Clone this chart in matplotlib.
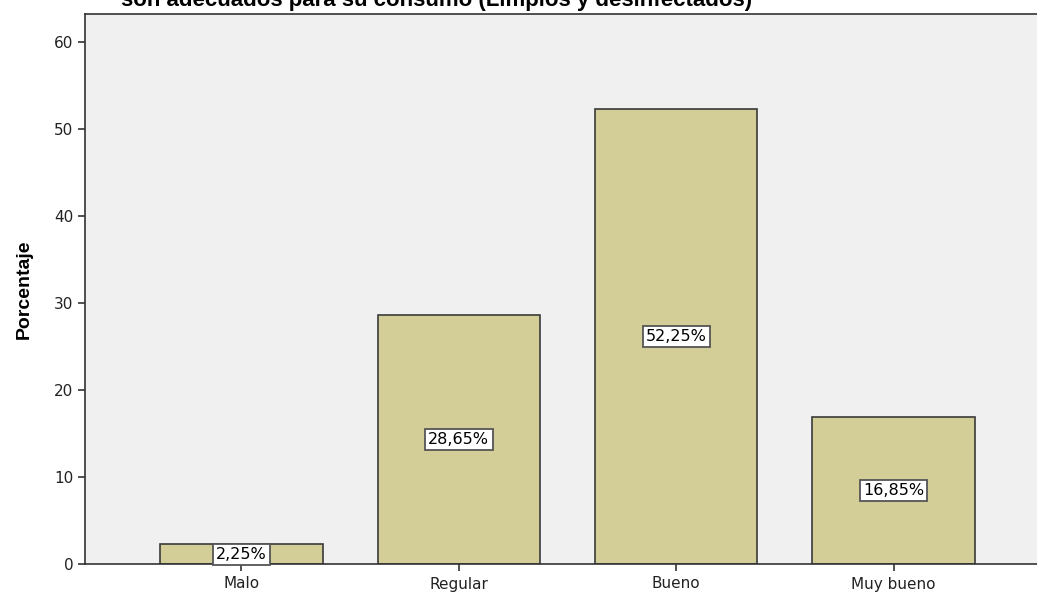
import matplotlib.pyplot as plt
import matplotlib as mpl

mpl.rcParams['font.family'] = ['DejaVu Sans']

categories = ['Malo', 'Regular', 'Bueno', 'Muy bueno']
percent = [2.25, 28.65, 52.25, 16.85]
yticks = [0, 10, 20, 30, 40, 50, 60]
title = 'son adecuados para su consumo (Limpios y desinfectados)'

fig = plt.figure(figsize=(10.37, 5.93), dpi=100)
ax = fig.add_axes([85 / 1037, 29 / 593, 1 - 85 / 1037, (564 - 14) / 593])
ax.set_facecolor('#f0f0f0')

x = range(len(categories))
ax.bar(x, percent, width=0.746, color='#d3ce97', edgecolor='#3a3a3a', linewidth=1.2, zorder=2)

# value boxes in the middle of each bar
for xi, v in zip(x, percent):
    ax.text(xi, v / 2, f'{v:.2f}%'.replace('.', ','), ha='center', va='center',
            fontsize=11.5, color='black', zorder=3,
            bbox=dict(boxstyle='square,pad=0.2', fc='white', ec='#555555', lw=1.3))

ax.set_xlim(-0.72, 3.66)
ax.set_ylim(0, 63.2)
ax.set_xticks(list(x))
ax.set_xticklabels(categories, fontsize=11)
ax.set_yticks(yticks)
ax.set_yticklabels([str(t) for t in yticks], fontsize=11)
ax.tick_params(axis='both', direction='out', length=5, width=1.2, color='#333333',
               labelcolor='#222222')
ax.tick_params(axis='x', pad=4)
ax.set_ylabel('Porcentaje', fontsize=14, fontweight='bold',
              family=['Liberation Sans', 'DejaVu Sans'])
ax.yaxis.set_label_coords(-0.0546, 0.5)

for side in ['left', 'bottom', 'top']:
    ax.spines[side].set_color('#333333')
    ax.spines[side].set_linewidth(1.2)
ax.spines['right'].set_visible(False)

fig.text(0.421, 1 - 6 / 593, title, ha='center', va='baseline',
         fontsize=16, fontweight='bold', family=['Liberation Sans', 'DejaVu Sans'])

fig.savefig('out.png', dpi=100)
